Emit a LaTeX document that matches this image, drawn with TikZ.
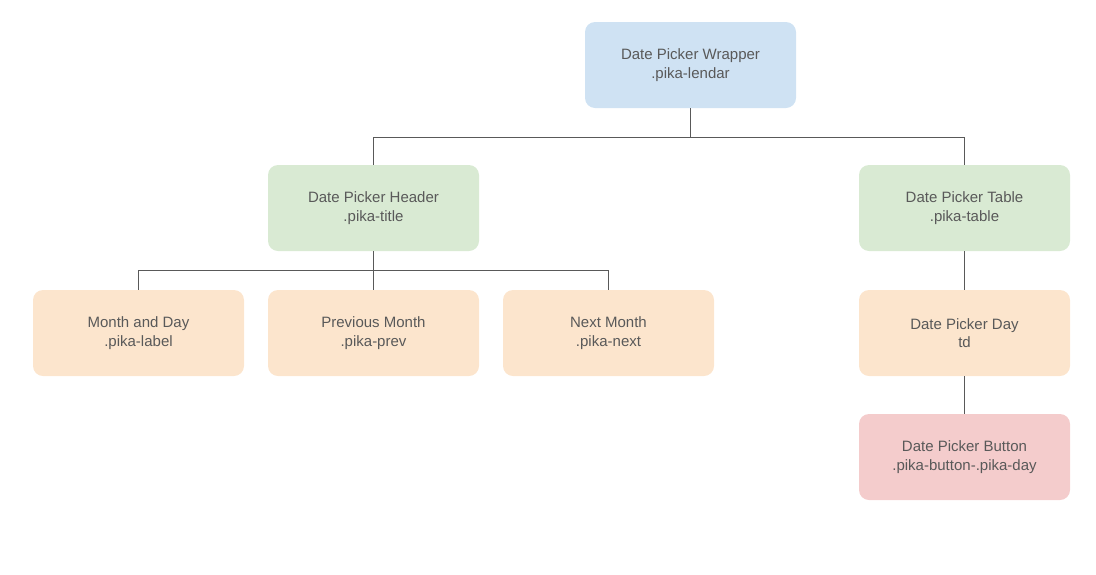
\documentclass[tikz,border=0pt]{standalone}
\usepackage{fontspec}
\setmainfont{Liberation Sans}
\usetikzlibrary{calc}
\definecolor{txt}{HTML}{595959}
\definecolor{ln}{HTML}{595959}
\definecolor{cblue}{HTML}{CFE2F3}
\definecolor{cgreen}{HTML}{D9EAD3}
\definecolor{corange}{HTML}{FCE5CD}
\definecolor{cred}{HTML}{F4CCCC}
\begin{document}
\begin{tikzpicture}[x=1pt,y=-1pt,
  box/.style={rounded corners=10pt,minimum width=211pt,minimum height=86pt,inner sep=0pt,
    align=center,text=txt,font=\fontsize{15}{18.5}\selectfont},
  conn/.style={draw=ln,line width=0.9pt}]
\useasboundingbox (0,0) rectangle (1096,574);
\node[box,fill=cblue] (wrap) at (690.5,65) {Date Picker Wrapper\\.pika-lendar};
\node[box,fill=cgreen] (head) at (373.5,208) {Date Picker Header\\.pika-title};
\node[box,fill=cgreen] (table) at (964.5,208) {Date Picker Table\\.pika-table};
\node[box,fill=corange] (month) at (138.5,333) {Month and Day\\.pika-label};
\node[box,fill=corange] (prev) at (373.5,333) {Previous Month\\.pika-prev};
\node[box,fill=corange] (next) at (608.5,333) {Next Month\\.pika-next};
\node[box,fill=corange] (day) at (964.5,333) {Date Picker Day\\td};
\node[box,fill=cred] (btn) at (964.5,457) {Date Picker Button\\.pika-button-.pika-day};
\draw[conn] (wrap.south) -- ++(0,29) -| (head.north);
\draw[conn] (wrap.south) -- ++(0,29) -| (table.north);
\draw[conn] (head.south) -- ++(0,19) -| (month.north);
\draw[conn] (head.south) -- (prev.north);
\draw[conn] (head.south) -- ++(0,19) -| (next.north);
\draw[conn] (table.south) -- (day.north);
\draw[conn] (day.south) -- (btn.north);
\end{tikzpicture}
\end{document}
